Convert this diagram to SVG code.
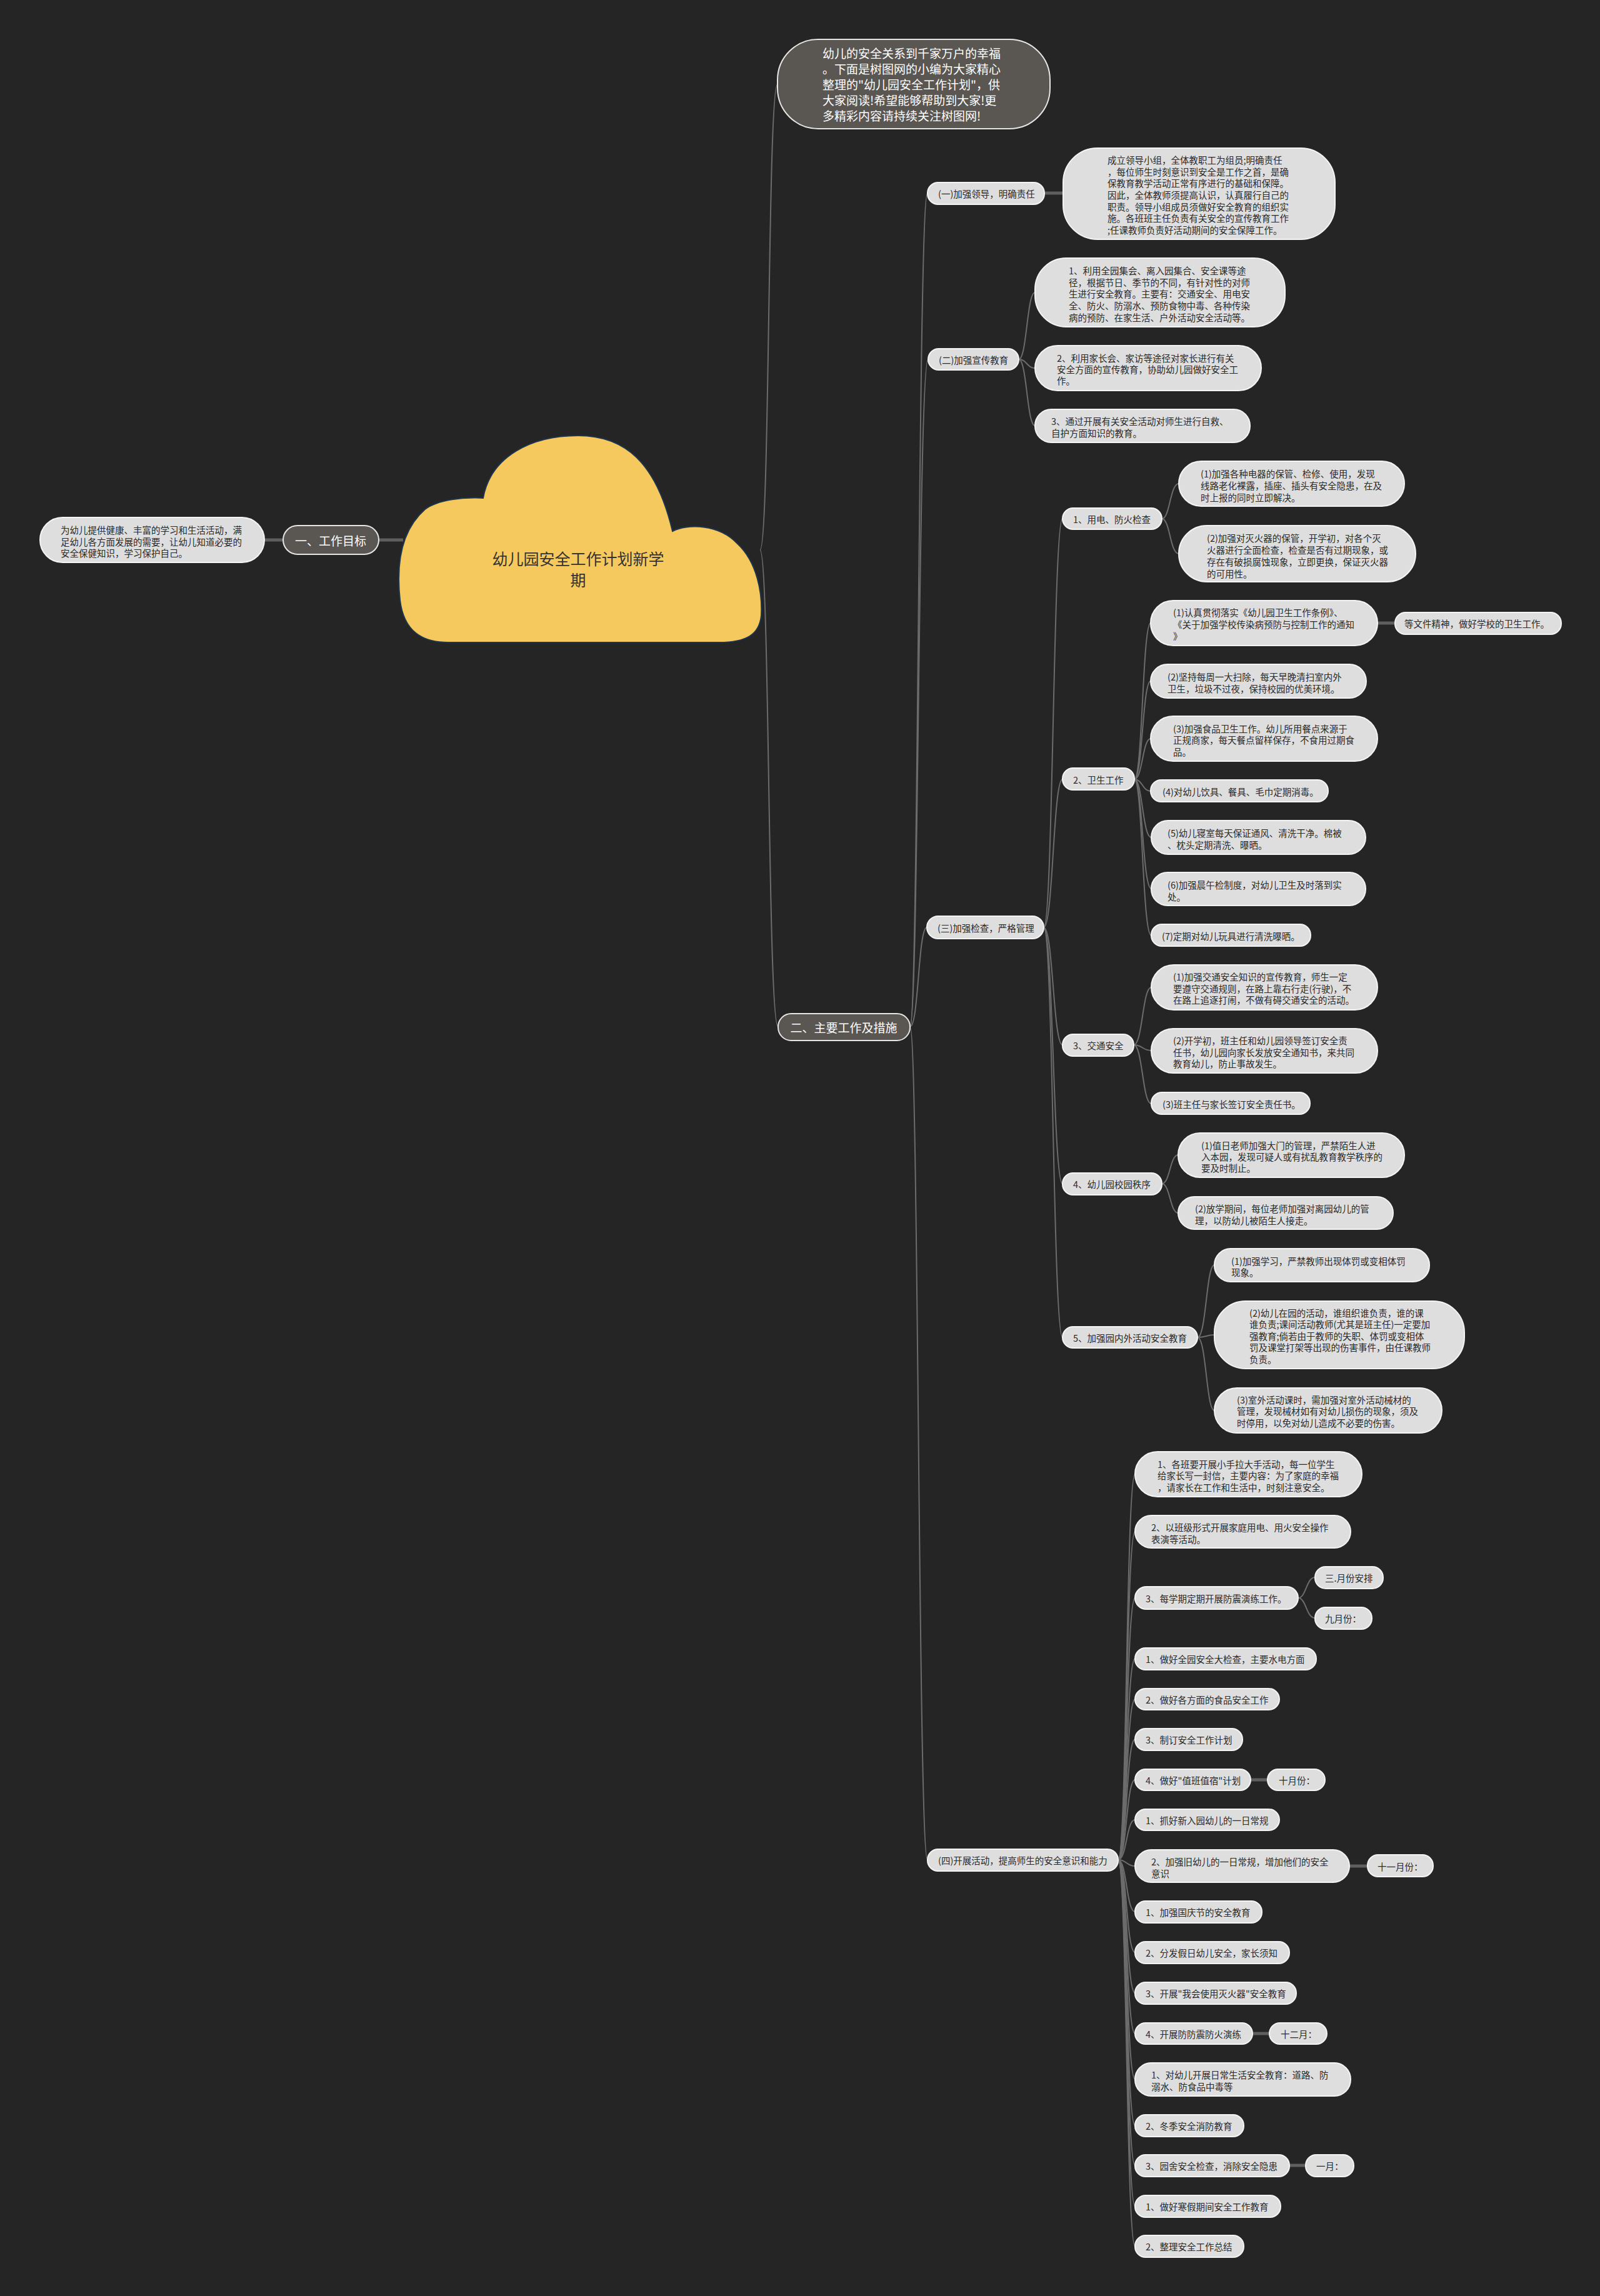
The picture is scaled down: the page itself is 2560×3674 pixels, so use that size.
<svg xmlns="http://www.w3.org/2000/svg" width="2560" height="3674" viewBox="0 0 2560 3674">
<style>
.ln{fill:none;stroke:#6c6c6c;stroke-width:2}
.lk{fill:none;stroke:#5f5f5f;stroke-width:5}
.nl rect{fill:#dedede;stroke:#f4f4f4;stroke-width:2}
.nd rect{fill:#5a5652;stroke:#e6e6e6;stroke-width:2}
text{font-family:"Noto Sans CJK SC","Noto Sans",sans-serif;dominant-baseline:central}
.t{font-size:14.5px;fill:#2a2a2a}
.tw{font-size:19px;fill:#ffffff}
.tr{font-size:25px;fill:#333333}
</style>
<rect x="0" y="0" width="2560" height="3674" fill="#252525"/>
<g id="connectors">
<path class="lk" d="M645 864L606 864"/>
<path class="lk" d="M453 864L423 864"/>
<path class="ln" d="M1216 880C1232 880 1228 135 1244 135"/>
<path class="ln" d="M1216 880C1232 880 1228 1643 1245 1643"/>
<path class="ln" d="M1456 1643C1470 1643 1469 309 1484 309"/>
<path class="ln" d="M1456 1643C1470 1643 1469 575 1485 575"/>
<path class="ln" d="M1456 1643C1470 1643 1469 1484 1483 1484"/>
<path class="ln" d="M1456 1643C1470 1643 1469 2976 1484 2976"/>
<path class="lk" d="M1671 309L1701 309"/>
<path class="ln" d="M1630 575C1643 575 1643 468 1656 468"/>
<path class="ln" d="M1630 575C1643 575 1643 589 1656 589"/>
<path class="ln" d="M1630 575C1643 575 1643 681 1656 681"/>
<path class="ln" d="M1670 1484C1685 1484 1685 830 1700 830"/>
<path class="ln" d="M1670 1484C1685 1484 1685 1247 1700 1247"/>
<path class="ln" d="M1670 1484C1685 1484 1685 1672 1700 1672"/>
<path class="ln" d="M1670 1484C1685 1484 1685 1894 1700 1894"/>
<path class="ln" d="M1670 1484C1685 1484 1685 2140 1700 2140"/>
<path class="ln" d="M1859 830C1872 830 1872 774 1886 774"/>
<path class="ln" d="M1859 830C1872 830 1872 886 1886 886"/>
<path class="ln" d="M1815 1247C1828 1247 1828 997 1841 997"/>
<path class="ln" d="M1815 1247C1828 1247 1828 1090 1841 1090"/>
<path class="ln" d="M1815 1247C1828 1247 1828 1182 1841 1182"/>
<path class="ln" d="M1815 1247C1828 1247 1828 1266 1841 1266"/>
<path class="ln" d="M1815 1247C1828 1247 1828 1340 1842 1340"/>
<path class="ln" d="M1815 1247C1828 1247 1828 1422 1842 1422"/>
<path class="ln" d="M1815 1247C1828 1247 1828 1497 1842 1497"/>
<path class="lk" d="M2204 997L2232 997"/>
<path class="ln" d="M1814 1672C1828 1672 1828 1580 1842 1580"/>
<path class="ln" d="M1814 1672C1828 1672 1828 1681 1842 1681"/>
<path class="ln" d="M1814 1672C1828 1672 1828 1766 1842 1766"/>
<path class="ln" d="M1859 1894C1872 1894 1872 1848 1885 1848"/>
<path class="ln" d="M1859 1894C1872 1894 1872 1941 1885 1941"/>
<path class="ln" d="M1916 2140C1930 2140 1930 2024 1943 2024"/>
<path class="ln" d="M1916 2140C1930 2140 1930 2136 1943 2136"/>
<path class="ln" d="M1916 2140C1930 2140 1930 2257 1943 2257"/>
<path class="ln" d="M1789 2976C1803 2976 1802 2359 1816 2359"/>
<path class="ln" d="M1789 2976C1803 2976 1802 2451 1816 2451"/>
<path class="ln" d="M1789 2976C1803 2976 1802 2557 1816 2557"/>
<path class="ln" d="M1789 2976C1803 2976 1802 2654 1816 2654"/>
<path class="ln" d="M1789 2976C1803 2976 1802 2719 1816 2719"/>
<path class="ln" d="M1789 2976C1803 2976 1802 2783 1816 2783"/>
<path class="ln" d="M1789 2976C1803 2976 1802 2848 1816 2848"/>
<path class="ln" d="M1789 2976C1803 2976 1802 2912 1816 2912"/>
<path class="ln" d="M1789 2976C1803 2976 1802 2986 1816 2986"/>
<path class="ln" d="M1789 2976C1803 2976 1802 3059 1816 3059"/>
<path class="ln" d="M1789 2976C1803 2976 1802 3124 1816 3124"/>
<path class="ln" d="M1789 2976C1803 2976 1802 3189 1816 3189"/>
<path class="ln" d="M1789 2976C1803 2976 1802 3254 1816 3254"/>
<path class="ln" d="M1789 2976C1803 2976 1802 3327 1816 3327"/>
<path class="ln" d="M1789 2976C1803 2976 1802 3401 1816 3401"/>
<path class="ln" d="M1789 2976C1803 2976 1802 3465 1816 3465"/>
<path class="ln" d="M1789 2976C1803 2976 1802 3530 1816 3530"/>
<path class="ln" d="M1789 2976C1803 2976 1802 3594 1816 3594"/>
<path class="ln" d="M2077 2557C2090 2557 2090 2524 2104 2524"/>
<path class="ln" d="M2077 2557C2090 2557 2090 2589 2104 2589"/>
<path class="lk" d="M2001 2848L2028 2848"/>
<path class="lk" d="M2159 2986L2188 2986"/>
<path class="lk" d="M2004 3254L2031 3254"/>
<path class="lk" d="M2063 3465L2089 3465"/>
</g>

<g id="root">
<path d="M717 1028C675 1028 646 1010 640 960C634 905 640 850 680 815C700 800 740 795 773 797C785 730 850 697 925 697C1000 697 1050 740 1076 850C1100 838 1150 838 1180 870C1212 900 1220 950 1218 985C1215 1015 1195 1028 1150 1028Z" fill="#f5c95e" stroke="#1e3550" stroke-width="2"/>
<text class="tr" x="925" y="893" text-anchor="middle">幼儿园安全工作计划新学</text>
<text class="tr" x="925" y="927" text-anchor="middle">期</text>
</g>

<g id="intro" class="nd">
<rect x="1244" y="63" width="436" height="143" rx="65"/>
<text class="tw" x="1316" y="84">幼儿的安全关系到千家万户的幸福</text>
<text class="tw" x="1316" y="109">。下面是树图网的小编为大家精心</text>
<text class="tw" x="1316" y="134">整理的"幼儿园安全工作计划"，供</text>
<text class="tw" x="1316" y="159">大家阅读!希望能够帮助到大家!更</text>
<text class="tw" x="1316" y="184">多精彩内容请持续关注树图网!</text>
</g>

<g id="goal" class="nd">
<rect x="453" y="841" width="153" height="46" rx="23"/>
<text class="tw" x="529" y="864" text-anchor="middle">一、工作目标</text>
</g>
<g id="goal-detail" class="nl">
<rect x="64" y="828" width="359" height="72" rx="36"/>
<text class="t" x="97" y="847">为幼儿提供健康、丰富的学习和生活活动，满</text>
<text class="t" x="97" y="866">足幼儿各方面发展的需要，让幼儿知道必要的</text>
<text class="t" x="97" y="884">安全保健知识，学习保护自己。</text>
</g>

<g id="main" class="nd">
<rect x="1245" y="1622" width="211" height="43" rx="21"/>
<text class="tw" x="1350" y="1643" text-anchor="middle">二、主要工作及措施</text>
</g>

<g id="s1" class="nl">
<rect x="1484" y="292" width="187" height="35" rx="17"/>
<text class="t" x="1501" y="309">(一)加强领导，明确责任</text>
</g>
<g id="s1-detail" class="nl">
<rect x="1701" y="237" width="435" height="146" rx="55"/>
<text class="t" x="1772" y="255">成立领导小组，全体教职工为组员;明确责任</text>
<text class="t" x="1772" y="274">，每位师生时刻意识到安全是工作之首，是确</text>
<text class="t" x="1772" y="292">保教育教学活动正常有序进行的基础和保障。</text>
<text class="t" x="1772" y="311">因此，全体教师须提高认识，认真履行自己的</text>
<text class="t" x="1772" y="330">职责。领导小组成员须做好安全教育的组织实</text>
<text class="t" x="1772" y="348">施。各班班主任负责有关安全的宣传教育工作</text>
<text class="t" x="1772" y="367">;任课教师负责好活动期间的安全保障工作。</text>
</g>

<g id="s2" class="nl">
<rect x="1485" y="558" width="145" height="34" rx="17"/>
<text class="t" x="1502" y="575">(二)加强宣传教育</text>
</g>
<g id="s2a" class="nl">
<rect x="1656" y="413" width="400" height="110" rx="50"/>
<text class="t" x="1710" y="432">1、利用全园集会、离入园集合、安全课等途</text>
<text class="t" x="1710" y="451">径，根据节日、季节的不同，有针对性的对师</text>
<text class="t" x="1710" y="469">生进行安全教育。主要有：交通安全、用电安</text>
<text class="t" x="1710" y="488">全、防火、防溺水、预防食物中毒、各种传染</text>
<text class="t" x="1710" y="507">病的预防、在家生活、户外活动安全活动等。</text>
</g>
<g id="s2b" class="nl">
<rect x="1656" y="553" width="362" height="72" rx="36"/>
<text class="t" x="1691" y="572">2、利用家长会、家访等途径对家长进行有关</text>
<text class="t" x="1691" y="590">安全方面的宣传教育，协助幼儿园做好安全工</text>
<text class="t" x="1691" y="608">作。</text>
</g>
<g id="s2c" class="nl">
<rect x="1656" y="655" width="344" height="53" rx="26"/>
<text class="t" x="1682" y="673">3、通过开展有关安全活动对师生进行自救、</text>
<text class="t" x="1682" y="692">自护方面知识的教育。</text>
</g>

<g id="s3" class="nl">
<rect x="1483" y="1466" width="187" height="36" rx="18"/>
<text class="t" x="1500" y="1484">(三)加强检查，严格管理</text>
</g>
<g id="t1" class="nl">
<rect x="1700" y="813" width="159" height="34" rx="17"/>
<text class="t" x="1717" y="830">1、用电、防火检查</text>
</g>
<g id="t1a" class="nl">
<rect x="1886" y="738" width="361" height="72" rx="36"/>
<text class="t" x="1921" y="757">(1)加强各种电器的保管、检修、使用，发现</text>
<text class="t" x="1921" y="776">线路老化裸露，插座、插头有安全隐患，在及</text>
<text class="t" x="1921" y="795">时上报的同时立即解决。</text>
</g>
<g id="t1b" class="nl">
<rect x="1886" y="841" width="379" height="90" rx="45"/>
<text class="t" x="1931" y="860">(2)加强对灭火器的保管，开学初，对各个灭</text>
<text class="t" x="1931" y="879">火器进行全面检查，检查是否有过期现象，或</text>
<text class="t" x="1931" y="898">存在有破损腐蚀现象，立即更换，保证灭火器</text>
<text class="t" x="1931" y="917">的可用性。</text>
</g>

<g id="t2" class="nl">
<rect x="1700" y="1229" width="115" height="35" rx="17"/>
<text class="t" x="1717" y="1247">2、卫生工作</text>
</g>
<g id="t2a" class="nl">
<rect x="1841" y="961" width="363" height="72" rx="36"/>
<text class="t" x="1877" y="979">(1)认真贯彻落实《幼儿园卫生工作条例》、</text>
<text class="t" x="1877" y="998">《关于加强学校传染病预防与控制工作的通知</text>
<text class="t" x="1877" y="1017">》</text>
</g>
<g id="t2a1" class="nl">
<rect x="2232" y="980" width="266" height="35" rx="17"/>
<text class="t" x="2247" y="997">等文件精神，做好学校的卫生工作。</text>
</g>
<g id="t2b" class="nl">
<rect x="1841" y="1063" width="345" height="54" rx="27"/>
<text class="t" x="1868" y="1082">(2)坚持每周一大扫除，每天早晚清扫室内外</text>
<text class="t" x="1868" y="1101">卫生，垃圾不过夜，保持校园的优美环境。</text>
</g>
<g id="t2c" class="nl">
<rect x="1841" y="1146" width="363" height="72" rx="36"/>
<text class="t" x="1877" y="1165">(3)加强食品卫生工作。幼儿所用餐点来源于</text>
<text class="t" x="1877" y="1183">正规商家，每天餐点留样保存，不食用过期食</text>
<text class="t" x="1877" y="1202">品。</text>
</g>
<g id="t2d" class="nl">
<rect x="1841" y="1248" width="284" height="35" rx="17"/>
<text class="t" x="1860" y="1266">(4)对幼儿饮具、餐具、毛巾定期消毒。</text>
</g>
<g id="t2e" class="nl">
<rect x="1842" y="1313" width="343" height="54" rx="27"/>
<text class="t" x="1868" y="1332">(5)幼儿寝室每天保证通风、清洗干净。棉被</text>
<text class="t" x="1868" y="1351">、枕头定期清洗、曝晒。</text>
</g>
<g id="t2f" class="nl">
<rect x="1842" y="1396" width="343" height="53" rx="26"/>
<text class="t" x="1868" y="1415">(6)加强晨午检制度，对幼儿卫生及时落到实</text>
<text class="t" x="1868" y="1434">处。</text>
</g>
<g id="t2g" class="nl">
<rect x="1842" y="1479" width="255" height="35" rx="17"/>
<text class="t" x="1859" y="1497">(7)定期对幼儿玩具进行清洗曝晒。</text>
</g>

<g id="t3" class="nl">
<rect x="1700" y="1655" width="114" height="35" rx="17"/>
<text class="t" x="1717" y="1672">3、交通安全</text>
</g>
<g id="t3a" class="nl">
<rect x="1842" y="1544" width="362" height="72" rx="36"/>
<text class="t" x="1877" y="1562">(1)加强交通安全知识的宣传教育，师生一定</text>
<text class="t" x="1877" y="1581">要遵守交通规则，在路上靠右行走(行驶)，不</text>
<text class="t" x="1877" y="1599">在路上追逐打闹，不做有碍交通安全的活动。</text>
</g>
<g id="t3b" class="nl">
<rect x="1842" y="1646" width="362" height="71" rx="35"/>
<text class="t" x="1877" y="1664">(2)开学初，班主任和幼儿园领导签订安全责</text>
<text class="t" x="1877" y="1683">任书，幼儿园向家长发放安全通知书，来共同</text>
<text class="t" x="1877" y="1701">教育幼儿，防止事故发生。</text>
</g>
<g id="t3c" class="nl">
<rect x="1842" y="1748" width="254" height="35" rx="17"/>
<text class="t" x="1860" y="1766">(3)班主任与家长签订安全责任书。</text>
</g>

<g id="t4" class="nl">
<rect x="1700" y="1877" width="159" height="35" rx="17"/>
<text class="t" x="1717" y="1894">4、幼儿园校园秩序</text>
</g>
<g id="t4a" class="nl">
<rect x="1885" y="1813" width="362" height="71" rx="35"/>
<text class="t" x="1922" y="1832">(1)值日老师加强大门的管理，严禁陌生人进</text>
<text class="t" x="1922" y="1850">入本园，发现可疑人或有扰乱教育教学秩序的</text>
<text class="t" x="1922" y="1868">要及时制止。</text>
</g>
<g id="t4b" class="nl">
<rect x="1885" y="1915" width="344" height="52" rx="26"/>
<text class="t" x="1912" y="1933">(2)放学期间，每位老师加强对离园幼儿的管</text>
<text class="t" x="1912" y="1952">理，以防幼儿被陌生人接走。</text>
</g>

<g id="t5" class="nl">
<rect x="1700" y="2123" width="216" height="34" rx="17"/>
<text class="t" x="1717" y="2140">5、加强园内外活动安全教育</text>
</g>
<g id="t5a" class="nl">
<rect x="1943" y="1998" width="344" height="53" rx="26"/>
<text class="t" x="1970" y="2017">(1)加强学习，严禁教师出现体罚或变相体罚</text>
<text class="t" x="1970" y="2035">现象。</text>
</g>
<g id="t5b" class="nl">
<rect x="1943" y="2082" width="400" height="108" rx="50"/>
<text class="t" x="1999" y="2100">(2)幼儿在园的活动，谁组织谁负责，谁的课</text>
<text class="t" x="1999" y="2118">谁负责;课间活动教师(尤其是班主任)一定要加</text>
<text class="t" x="1999" y="2137">强教育;倘若由于教师的失职、体罚或变相体</text>
<text class="t" x="1999" y="2155">罚及课堂打架等出现的伤害事件，由任课教师</text>
<text class="t" x="1999" y="2174">负责。</text>
</g>
<g id="t5c" class="nl">
<rect x="1943" y="2221" width="364" height="72" rx="36"/>
<text class="t" x="1979" y="2239">(3)室外活动课时，需加强对室外活动械材的</text>
<text class="t" x="1979" y="2257">管理，发现械材如有对幼儿损伤的现象，须及</text>
<text class="t" x="1979" y="2276">时停用，以免对幼儿造成不必要的伤害。</text>
</g>

<g id="s4" class="nl">
<rect x="1484" y="2959" width="305" height="35" rx="17"/>
<text class="t" x="1501" y="2976">(四)开展活动，提高师生的安全意识和能力</text>
</g>
<g id="a1" class="nl">
<rect x="1816" y="2323" width="363" height="72" rx="36"/>
<text class="t" x="1852" y="2342">1、各班要开展小手拉大手活动，每一位学生</text>
<text class="t" x="1852" y="2360">给家长写一封信，主要内容：为了家庭的幸福</text>
<text class="t" x="1852" y="2379">，请家长在工作和生活中，时刻注意安全。</text>
</g>
<g id="a2" class="nl">
<rect x="1816" y="2425" width="345" height="52" rx="26"/>
<text class="t" x="1842" y="2443">2、以班级形式开展家庭用电、用火安全操作</text>
<text class="t" x="1842" y="2462">表演等活动。</text>
</g>
<g id="a3" class="nl">
<rect x="1816" y="2539" width="261" height="36" rx="18"/>
<text class="t" x="1833" y="2557">3、每学期定期开展防震演练工作。</text>
</g>
<g id="m3" class="nl">
<rect x="2104" y="2507" width="109" height="35" rx="17"/>
<text class="t" x="2120" y="2524">三.月份安排</text>
</g>
<g id="m9" class="nl">
<rect x="2104" y="2572" width="91" height="35" rx="17"/>
<text class="t" x="2120" y="2589">九月份：</text>
</g>
<g id="b1" class="nl">
<rect x="1816" y="2637" width="290" height="35" rx="17"/>
<text class="t" x="1833" y="2654">1、做好全园安全大检查，主要水电方面</text>
</g>
<g id="b2" class="nl">
<rect x="1816" y="2702" width="231" height="34" rx="17"/>
<text class="t" x="1833" y="2719">2、做好各方面的食品安全工作</text>
</g>
<g id="b3" class="nl">
<rect x="1816" y="2766" width="172" height="35" rx="17"/>
<text class="t" x="1833" y="2783">3、制订安全工作计划</text>
</g>
<g id="b4" class="nl">
<rect x="1816" y="2831" width="185" height="34" rx="17"/>
<text class="t" x="1833" y="2848">4、做好"值班值宿"计划</text>
</g>
<g id="m10" class="nl">
<rect x="2028" y="2831" width="92" height="34" rx="17"/>
<text class="t" x="2046" y="2848">十月份：</text>
</g>
<g id="b5" class="nl">
<rect x="1816" y="2895" width="231" height="34" rx="17"/>
<text class="t" x="1833" y="2912">1、抓好新入园幼儿的一日常规</text>
</g>
<g id="b6" class="nl">
<rect x="1816" y="2960" width="343" height="52" rx="26"/>
<text class="t" x="1842" y="2978">2、加强旧幼儿的一日常规，增加他们的安全</text>
<text class="t" x="1842" y="2997">意识</text>
</g>
<g id="m11" class="nl">
<rect x="2188" y="2968" width="105" height="35" rx="17"/>
<text class="t" x="2204" y="2986">十一月份：</text>
</g>
<g id="c1" class="nl">
<rect x="1816" y="3042" width="203" height="35" rx="17"/>
<text class="t" x="1833" y="3059">1、加强国庆节的安全教育</text>
</g>
<g id="c2" class="nl">
<rect x="1816" y="3107" width="247" height="35" rx="17"/>
<text class="t" x="1833" y="3124">2、分发假日幼儿安全，家长须知</text>
</g>
<g id="c3" class="nl">
<rect x="1816" y="3172" width="258" height="35" rx="17"/>
<text class="t" x="1833" y="3189">3、开展"我会使用灭火器"安全教育</text>
</g>
<g id="c4" class="nl">
<rect x="1816" y="3237" width="188" height="34" rx="17"/>
<text class="t" x="1833" y="3254">4、开展防防震防火演练</text>
</g>
<g id="m12" class="nl">
<rect x="2031" y="3237" width="92" height="34" rx="17"/>
<text class="t" x="2049" y="3254">十二月：</text>
</g>
<g id="c5" class="nl">
<rect x="1816" y="3301" width="345" height="53" rx="26"/>
<text class="t" x="1842" y="3319">1、对幼儿开展日常生活安全教育：道路、防</text>
<text class="t" x="1842" y="3338">溺水、防食品中毒等</text>
</g>
<g id="d1" class="nl">
<rect x="1816" y="3384" width="174" height="35" rx="17"/>
<text class="t" x="1833" y="3401">2、冬季安全消防教育</text>
</g>
<g id="d2" class="nl">
<rect x="1816" y="3448" width="247" height="35" rx="17"/>
<text class="t" x="1833" y="3465">3、园舍安全检查，消除安全隐患</text>
</g>
<g id="m1" class="nl">
<rect x="2089" y="3448" width="77" height="35" rx="17"/>
<text class="t" x="2106" y="3465">一月：</text>
</g>
<g id="d3" class="nl">
<rect x="1816" y="3513" width="233" height="35" rx="17"/>
<text class="t" x="1833" y="3530">1、做好寒假期间安全工作教育</text>
</g>
<g id="d4" class="nl">
<rect x="1816" y="3577" width="174" height="35" rx="17"/>
<text class="t" x="1833" y="3594">2、整理安全工作总结</text>
</g>
</svg>
